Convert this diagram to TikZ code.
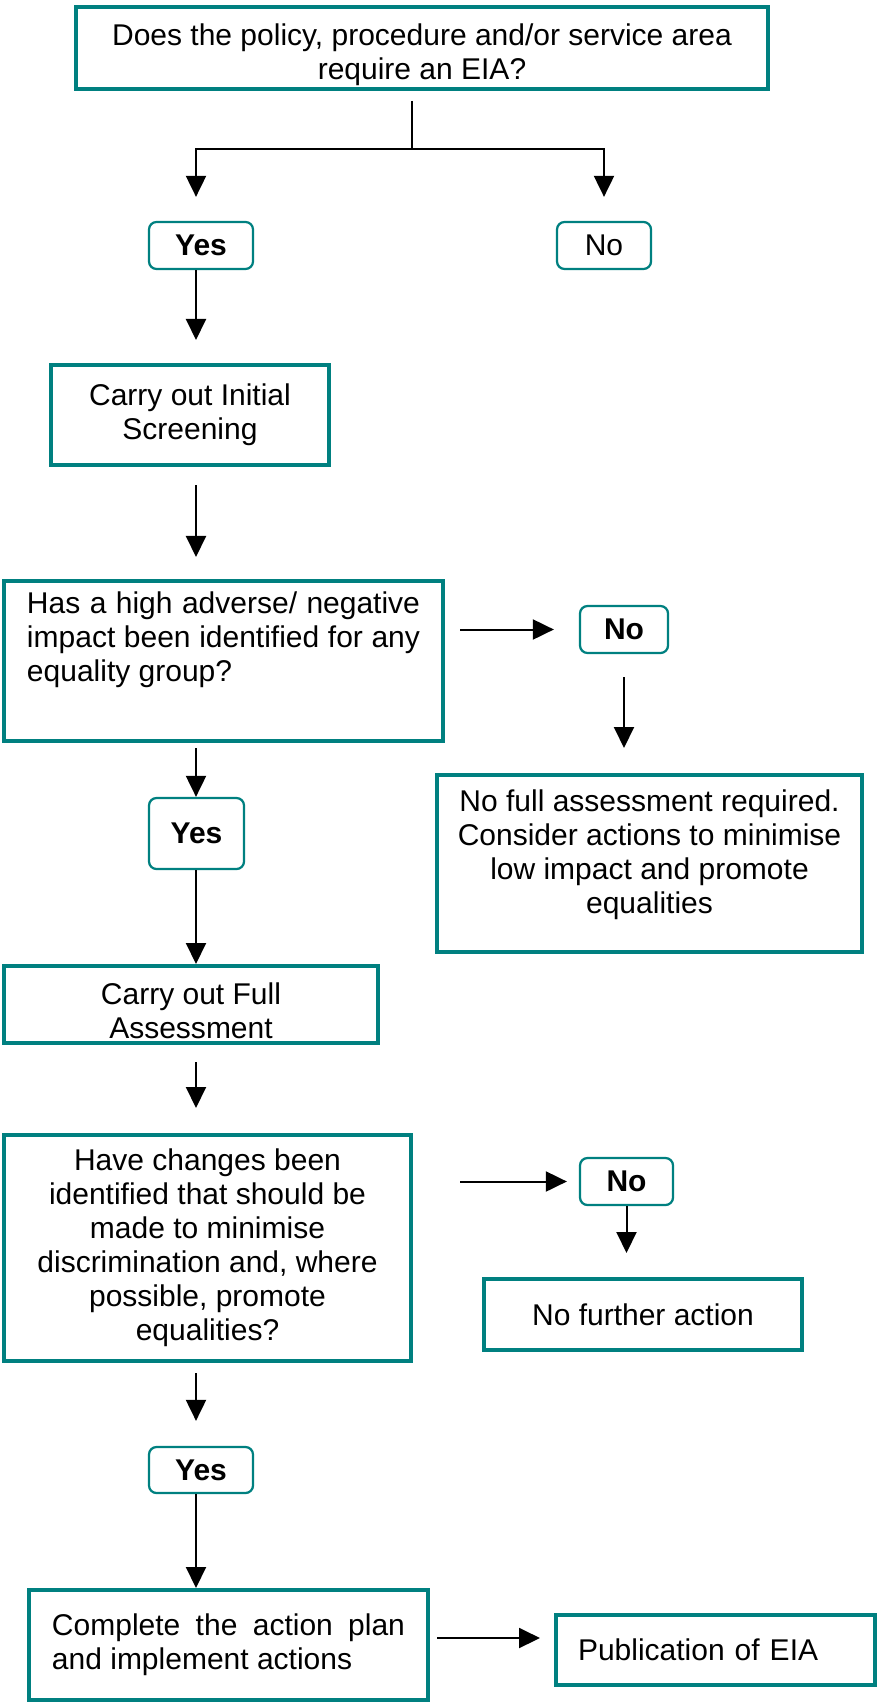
\documentclass[tikz,border=0pt]{standalone}
\usepackage{fontspec}
\setmainfont{Liberation Sans}
\usetikzlibrary{arrows.meta}
\definecolor{eiateal}{RGB}{0,128,128}
\newcommand\eiafont{\fontsize{12}{13.6}\selectfont}
\tolerance=9999
\tikzset{
  bigbox/.style={draw=eiateal, line width=1.6pt, inner sep=0pt, align=center, font=\eiafont},
  tag/.style={draw=eiateal, line width=0.9pt, rounded corners=3pt, inner sep=0pt, font=\eiafont\bfseries},
  line/.style={line width=0.8pt},
  arr/.style={line width=0.8pt, -{Triangle[length=8.4pt,width=8pt]}},
}
\begin{document}
\begin{tikzpicture}[x=0.4pt, y=-0.4pt]
\useasboundingbox (0,0) rectangle (877,1704);
% main column and fork
\coordinate (col) at (196,0);
\coordinate (fork) at (412,149);

\node[bigbox, minimum width=277pt, minimum height=32.8pt, text height=28pt] (eia) at (422,48) {Does the policy, procedure and/or service area\\require an EIA?};
\node[tag, minimum width=41.6pt, minimum height=18.8pt] (yes1) at (201,245.5) {Yes};
\node[tag, font=\eiafont, minimum width=37.6pt, minimum height=18.8pt] (no1) at (604,245.5) {No};

\node[bigbox, minimum width=111.2pt, minimum height=40pt] (screen) at (190,415) {Carry out Initial\\Screening};

\node[bigbox, text width=157.2pt, align=justify, minimum width=175.6pt, minimum height=64pt, text depth=47pt] (adverse) at (223.5,661) {Has a high adverse/ negative impact been identified for any equality group?};
\node[tag, minimum width=35.2pt, minimum height=18.8pt] (no2) at (624,629.5) {No};
\node[bigbox, minimum width=170pt, minimum height=70.8pt, text depth=9.6pt] (nofull) at (649.5,863.5) {No full assessment required.\\Consider actions to minimise\\low impact and promote\\equalities};
\node[tag, minimum width=38pt, minimum height=28.4pt] (yes2) at (196.5,833.5) {Yes};

\node[bigbox, minimum width=149.6pt, minimum height=30.8pt, text height=27pt] (full) at (191,1004.5) {Carry out Full\\Assessment};

\node[bigbox, minimum width=162.8pt, minimum height=90.4pt] (changes) at (207.5,1248) {Have changes been\\identified that should be\\made to minimise\\discrimination and, where\\possible, promote\\equalities?};
\node[tag, minimum width=37.2pt, minimum height=18.8pt] (no3) at (626.5,1181.5) {No};
\node[bigbox, minimum width=127.2pt, minimum height=28.4pt] (nofurther) at (643,1314.5) {No further action};
\node[tag, minimum width=41.6pt, minimum height=18.4pt] (yes3) at (201,1470) {Yes};

\node[bigbox, text width=141.2pt, align=justify, minimum width=159.6pt, minimum height=44pt] (plan) at (228.5,1645) {Complete the action plan and implement actions};
\node[bigbox, text width=110pt, align=left, minimum width=127.6pt, minimum height=28pt] (pub) at (715.5,1650) {Publication of EIA};

% connectors
\draw[line, shorten <=4pt] (eia.south -| fork) -- (fork);
\draw[arr, shorten >=9.6pt] (fork) -| (yes1.north -| col);
\draw[arr, shorten >=9.6pt] (fork) -| (no1.north);
\draw[arr, shorten >=9.2pt] (yes1.south -| col) -- (screen.north -| col);
\draw[arr, shorten <=7.2pt, shorten >=8.8pt] (screen.south -| col) -- (adverse.north -| col);
\draw[arr, shorten <=6pt, shorten >=10pt] (no2.west -| adverse.east) -- (no2.west);
\draw[arr, shorten <=9.2pt, shorten >=10pt] (no2.south) -- (no2.south |- nofull.north);
\draw[arr, shorten <=2pt] (adverse.south -| col) -- (yes2.north -| col);
\draw[arr] (yes2.south -| col) -- (full.north -| col);
\draw[arr, shorten <=6.8pt, shorten >=10pt] (full.south -| col) -- (changes.north -| col);
\draw[arr, shorten <=18.8pt, shorten >=4.8pt] (no3.west -| changes.east) -- (no3.west);
\draw[arr, shorten >=9.6pt] (no3.south) -- (no3.south |- nofurther.north);
\draw[arr, shorten <=4pt, shorten >=10pt] (changes.south -| col) -- (yes3.north -| col);
\draw[arr] (yes3.south -| col) -- (plan.north -| col);
\draw[arr, shorten <=2.8pt, shorten >=5.6pt] ([yshift=2.8pt]plan.east) -- ([yshift=2.8pt]plan.east -| pub.west);
\end{tikzpicture}
\end{document}
